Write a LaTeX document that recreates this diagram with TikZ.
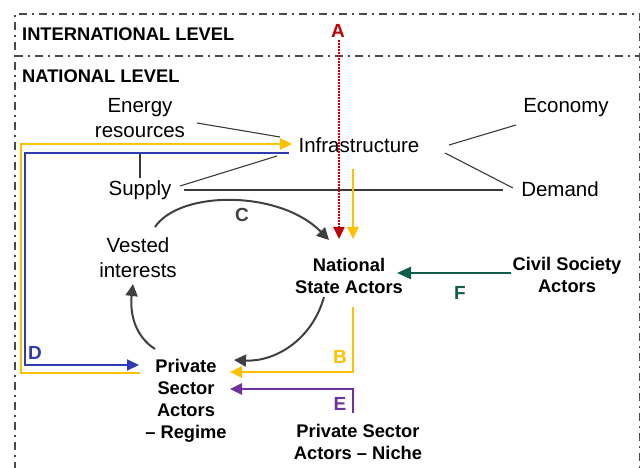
\documentclass[tikz,border=0pt]{standalone}
\usepackage{fontspec}
\setmainfont{Liberation Sans}
\usetikzlibrary{arrows.meta}
\definecolor{cyel}{HTML}{FFC000}
\definecolor{cblue}{HTML}{2F3BB5}
\definecolor{cred}{HTML}{C00000}
\definecolor{cgray}{HTML}{404040}
\definecolor{cgreen}{HTML}{0E5C4A}
\definecolor{cpurp}{HTML}{7030A0}
\definecolor{cframe}{HTML}{4A4A4A}
\definecolor{cthin}{HTML}{3A3A3A}
\begin{document}
\begin{tikzpicture}[x=1pt,y=-1pt,
  reg/.style={font=\fontsize{20.5}{25}\selectfont, align=center, inner sep=0pt},
  bld/.style={font=\fontsize{18.3}{22}\selectfont\bfseries, align=center, inner sep=0pt},
  lbl/.style={font=\fontsize{19}{22}\selectfont\bfseries, inner sep=0pt},
  framestyle/.style={draw=cframe, line width=1.7pt, dash pattern=on 8pt off 5pt on 2pt off 5pt},
  thinline/.style={draw=cthin, line width=1.1pt},
  tipa/.style={-{Triangle[length=12pt,width=11pt]}},
  yel/.style={draw=cyel, line width=2.5pt, tipa},
  blu/.style={draw=cblue, line width=2pt, tipa},
  redd/.style={draw=cred, line width=2pt, dash pattern=on 1.6pt off 1.4pt, -{Triangle[length=12pt,width=11pt]}},
  pur/.style={draw=cpurp, line width=2.5pt, tipa},
  grn/.style={draw=cgreen, line width=2.5pt, -{Triangle[length=14pt,width=12pt]}},
  gry/.style={draw=cgray, line width=2pt, -{Triangle[length=12pt,width=12pt]}}
]
\useasboundingbox (0,0) rectangle (641,468);
% frame
\draw[framestyle] (15,470) -- (15,14) -- (639.5,14) -- (639.5,470);
\draw[framestyle] (15,56) -- (639.5,56);

% texts
\node[bld, anchor=west] (intl) at (22,34) {INTERNATIONAL LEVEL};
\node[bld, anchor=west] (natl) at (22,76) {NATIONAL LEVEL};
\node[lbl, text=cred] (A) at (338,31) {A};
\node[reg] (energy) at (140,118.5) {Energy\\resources};
\node[reg] (infra) at (359,145) {Infrastructure};
\node[reg] (economy) at (566,108) {Economy};
\node[reg] (supply) at (140,190) {Supply};
\node[reg] (demand) at (560,189) {Demand};
\node[reg] (vested) at (138,257.5) {Vested\\interests};
\node[lbl, text=cgray] (C) at (242,215) {C};
\node[bld] (nsa) at (349,276) {National\\State Actors};
\node[bld] (csa) at (567,274.5) {Civil Society\\Actors};
\node[lbl, text=cgreen] (F) at (460,293) {F};
\node[lbl, text=cblue] (D) at (35,353) {D};
\node[bld] (psr) at (186,401) {Private\\Sector\\Actors\\– Regime};
\node[lbl, text=cyel] (B) at (340,357) {B};
\node[lbl, text=cpurp] (E) at (340,404) {E};
\node[bld] (psn) at (358,441.5) {Private Sector\\Actors – Niche};

% connector end points
\coordinate (erI) at (197,123);  \coordinate (infE) at (280,137);
\coordinate (supI) at (180,186); \coordinate (infS) at (277,156);
\coordinate (supD) at (184,190); \coordinate (demS) at (503,190);
\coordinate (infEc) at (449,145); \coordinate (ecoI) at (516,125);
\coordinate (infDm) at (445,153); \coordinate (demI) at (513,188);
\coordinate (supT) at (140,178); \coordinate (bluT) at (140,153);

\draw[thinline] (erI) -- (infE);
\draw[thinline] (supI) -- (infS);
\draw[thinline] (supD) -- (demS);
\draw[thinline] (infEc) -- (ecoI);
\draw[thinline] (infDm) -- (demI);
\draw[thinline] (supT) -- (bluT);

% yellow loop
\coordinate (nsaB) at (353,307); \coordinate (psrB) at (230,372);
\draw[yel] (nsaB) -- (353,372) -- (psrB);
\coordinate (psrY) at (140,373); \coordinate (infY) at (292,144);
\draw[yel] (psrY) -- (21,373) -- (21,144) -- (infY);
\coordinate (infY2) at (353,169); \coordinate (nsaY) at (353,239);
\draw[yel] (infY2) -- (nsaY);

% blue D
\coordinate (infB) at (289,153); \coordinate (psrD) at (139,365);
\draw[blu] (infB) -- (25,153) -- (25,365) -- (psrD);

% red A
\coordinate (aS) at (339,40); \coordinate (nsaA) at (339,239);
\draw[redd] (aS) -- (nsaA);

% purple E
\coordinate (psnE) at (353,413); \coordinate (psrE) at (230,389);
\draw[pur] (psnE) -- (353,389) -- (psrE);

% green F
\coordinate (csaF) at (511,273); \coordinate (nsaF) at (397,273);
\draw[grn] (csaF) -- (nsaF);

% gray cycle
\coordinate (vesC) at (155,227); \coordinate (nsaC) at (329,240);
\draw[gry] (vesC) .. controls (180,190) and (280,190) .. (nsaC);
\coordinate (nsaP) at (324,297); \coordinate (psrP) at (234,360);
\draw[gry] (nsaP) .. controls (312,340) and (275,362) .. (psrP);
\coordinate (psrV) at (155,349); \coordinate (vesV) at (133,284);
\draw[gry] (psrV) .. controls (133,335) and (130,310) .. (vesV);
\end{tikzpicture}
\end{document}
